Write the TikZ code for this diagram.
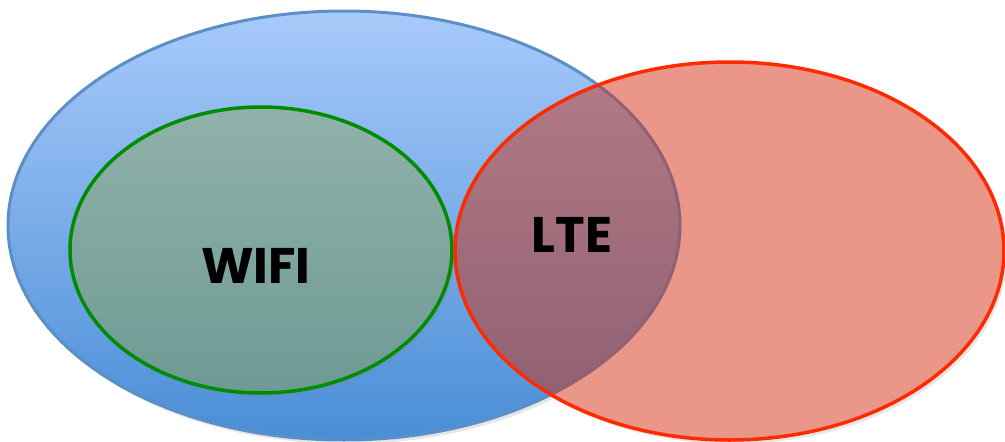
\documentclass[tikz,border=0pt]{standalone}
\usepackage{fontspec}
\usepackage{tikz}
\usetikzlibrary{positioning, shadows}
\newfontfamily\labelfont{Poppins}
\definecolor{bluetop}{HTML}{A8CAFA}
\definecolor{bluebot}{HTML}{4A8ED6}
\definecolor{blueedge}{HTML}{5C8FC6}
\definecolor{greentop}{HTML}{90B2AA}
\definecolor{greenbot}{HTML}{6E9A94}
\definecolor{greenedge}{HTML}{008C00}
\definecolor{redfill}{HTML}{EA9688}
\definecolor{rededge}{HTML}{FF2A00}
\definecolor{mixtop}{HTML}{B47A86}
\definecolor{mixbot}{HTML}{8C5E70}
\definecolor{mixedge}{HTML}{8E6274}
\tikzset{
  setlabel/.style={font=\labelfont\bfseries\fontsize{50}{60}\selectfont, text=black},
  softshadow/.style={drop shadow={opacity=0.2, shadow xshift=3pt, shadow yshift=-4pt}}
}

\begin{document}
\begin{tikzpicture}[x=1pt, y=-1pt]
    \useasboundingbox (0,0) rectangle (1005,442);
    \coordinate (OB) at (344,225.5);
    \coordinate (OG) at (261,250);
    \coordinate (OR) at (729.5,251);
    % big blue set
    \shade[top color=bluetop, bottom color=bluebot, draw=blueedge, line width=3pt, softshadow]
        (OB) ellipse [x radius=336pt, y radius=214.5pt];
    % wifi set
    \shade[top color=greentop, bottom color=greenbot, draw=greenedge, line width=3.5pt, softshadow]
        (OG) ellipse [x radius=191pt, y radius=143pt];
    % lte set
    \fill[redfill, softshadow] (OR) ellipse [x radius=274.5pt, y radius=189pt];
    \begin{scope}
    \clip (OB) ellipse [x radius=336pt, y radius=214.5pt];
    \shade[top color=mixtop, bottom color=mixbot] (OR) ellipse [x radius=274.5pt, y radius=189pt];
    \end{scope}
    \begin{scope}
    \clip (OR) ellipse [x radius=274.5pt, y radius=189pt];
    \draw[mixedge, line width=3pt] (OB) ellipse [x radius=336pt, y radius=214.5pt];
    \end{scope}
    \draw[rededge, line width=3.5pt] (OR) ellipse [x radius=274.5pt, y radius=189pt];
    \node[setlabel] (wifi) at (256,266) {WIFI};
    \node[setlabel] (lte) at (572,235) {LTE};
\end{tikzpicture}
\end{document}
